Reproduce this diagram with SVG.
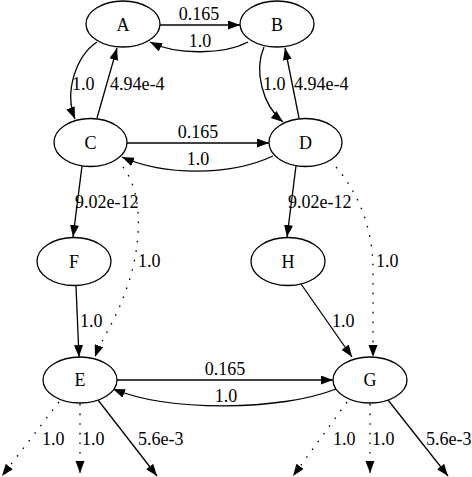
<svg xmlns="http://www.w3.org/2000/svg" width="472" height="477" viewBox="0 0 472 477">
<style>
  .node ellipse { fill: #ffffff; stroke: #000000; stroke-width: 1.3; }
  text { font-family: "Liberation Serif", "Times New Roman", serif; font-size: 18px; fill: #000000; }
  .nl { text-anchor: middle; }
  .mid { text-anchor: middle; }
  .e { fill: none; stroke: #000000; stroke-width: 1.3; marker-end: url(#arrow); }
  .dot { stroke-dasharray: 1.6,8; }
</style>
<defs>
  <marker id="arrow" markerUnits="userSpaceOnUse" markerWidth="13" markerHeight="10" refX="12" refY="4.5" orient="auto" viewBox="0 0 13 10">
    <path d="M0,0 L12,4.5 L0,9 Z" fill="#000000"/>
  </marker>
</defs>
<rect width="472" height="477" fill="#ffffff"/>
<g id="edges">
  <path class="e" d="M160,25 L240,25"/>
  <path class="e" d="M248,42 C225,54 178,56 150,42"/>
  <path class="e" d="M97,42 C76,56 64,92 75,119"/>
  <path class="e" d="M97,118 L117,48"/>
  <path class="e" d="M264,47 C254,70 262,105 283,122"/>
  <path class="e" d="M299,118 L285,48"/>
  <path class="e" d="M127,143 L269,143"/>
  <path class="e" d="M273,156 C230,176 165,176 122,157"/>
  <path class="e" d="M82,166 L73,237"/>
  <path class="e" d="M296,166 L287,237"/>
  <path class="e dot" d="M123,167 C145,195 141,250 126,290 C116,320 101,340 95,357"/>
  <path class="e" d="M76,286 L79,357"/>
  <path class="e dot" d="M336,167 C360,195 373,230 373,270 L373,357"/>
  <path class="e" d="M301,284 L352,357"/>
  <path class="e" d="M117,380 L333,380"/>
  <path class="e" d="M336,389 C280,411 170,412 113,389"/>
  <path class="e dot" d="M59,402 L2,476"/>
  <path class="e dot" d="M80,404 L80,473"/>
  <path class="e" d="M98,400 L157,476"/>
  <path class="e dot" d="M347,402 L293,476"/>
  <path class="e dot" d="M370,404 L370,473"/>
  <path class="e" d="M388,400 L448,476"/>
  <text class="mid" x="199" y="20">0.165</text>
  <text class="mid" x="200" y="47">1.0</text>
  <text x="72" y="90">1.0</text>
  <text x="110" y="90">4.94e-4</text>
  <text x="263" y="90">1.0</text>
  <text x="294" y="90">4.94e-4</text>
  <text class="mid" x="198" y="138">0.165</text>
  <text class="mid" x="198" y="165">1.0</text>
  <text x="75" y="208">9.02e-12</text>
  <text x="288" y="208">9.02e-12</text>
  <text x="138" y="267">1.0</text>
  <text x="80" y="327">1.0</text>
  <text x="376" y="267">1.0</text>
  <text x="332" y="327">1.0</text>
  <text class="mid" x="225" y="375">0.165</text>
  <text class="mid" x="226" y="402">1.0</text>
  <text x="42" y="445">1.0</text>
  <text x="82" y="445">1.0</text>
  <text x="138" y="445">5.6e-3</text>
  <text x="333" y="445">1.0</text>
  <text x="372" y="445">1.0</text>
  <text x="426" y="445">5.6e-3</text>
</g>
<g id="A" class="node"><ellipse cx="123" cy="24" rx="37" ry="23"/><text class="nl" x="123" y="31">A</text></g>
<g id="B" class="node"><ellipse cx="277" cy="24" rx="37" ry="23"/><text class="nl" x="277" y="31">B</text></g>
<g id="C" class="node"><ellipse cx="90.5" cy="142.5" rx="36.5" ry="24"/><text class="nl" x="90.5" y="149">C</text></g>
<g id="D" class="node"><ellipse cx="305.5" cy="142.5" rx="36.5" ry="24"/><text class="nl" x="305.5" y="149">D</text></g>
<g id="F" class="node"><ellipse cx="74" cy="261.5" rx="37" ry="24"/><text class="nl" x="74" y="268">F</text></g>
<g id="H" class="node"><ellipse cx="288" cy="261.5" rx="37" ry="24"/><text class="nl" x="288" y="268">H</text></g>
<g id="E" class="node"><ellipse cx="80" cy="380" rx="37" ry="23"/><text class="nl" x="80" y="386">E</text></g>
<g id="G" class="node"><ellipse cx="370" cy="380" rx="37" ry="23"/><text class="nl" x="370" y="386">G</text></g>
</svg>
